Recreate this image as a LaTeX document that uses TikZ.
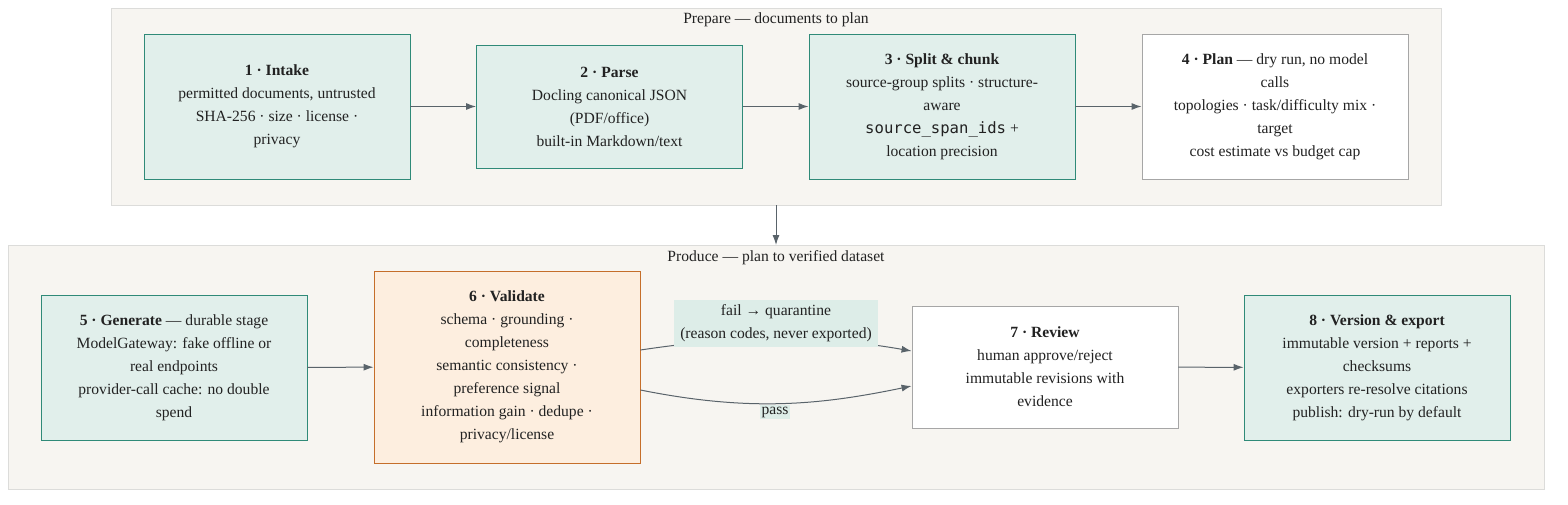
\documentclass[tikz,border=0pt]{standalone}
\usepackage{fontspec}
\setmainfont{Liberation Serif}
\setmonofont{DejaVu Sans Mono}
\usetikzlibrary{arrows.meta}
\definecolor{tfill}{HTML}{E1EFEB}
\definecolor{tdraw}{HTML}{2F8A78}
\definecolor{cfill}{HTML}{F7F5F1}
\definecolor{cdraw}{HTML}{DCDCDA}
\definecolor{ofill}{HTML}{FDEEDF}
\definecolor{odraw}{HTML}{C56E2A}
\definecolor{lfill}{HTML}{DDEDE8}
\definecolor{edge}{HTML}{59636A}
\definecolor{txt}{HTML}{222222}
\begin{document}
\begin{tikzpicture}[x=1pt,y=-1pt,
  font=\fontsize{15.6}{23}\selectfont, text=txt,
  box/.style={draw=tdraw,fill=tfill,line width=0.9pt,minimum width=266pt,align=center,inner sep=0pt},
  wbox/.style={box,draw=gray!70,fill=white},
  obox/.style={box,draw=odraw,fill=ofill},
  clus/.style={draw=cdraw,fill=cfill,line width=0.9pt},
  arr/.style={draw=edge,line width=1pt,-{Latex[length=10pt,width=7pt]}},
  lab/.style={fill=lfill,align=center,inner sep=2pt}]
\useasboundingbox (0,0) rectangle (1568,504);
\draw[clus] (111,8) rectangle (1441,205);
\coordinate (ctop) at (776,205);
\node at (776,20) {Prepare — documents to plan};
\draw[clus] (8,245) rectangle (1544,489);
\coordinate (cbot) at (776,245);
\node at (776,258) {Produce — plan to verified dataset};

\node[box,minimum height=145pt] (n1) at (277,106.5) {\textbf{1 · Intake}\\permitted documents, untrusted\\SHA-256 · size · license ·\\privacy};
\node[box,minimum height=123pt] (n2) at (609.5,106.5) {\textbf{2 · Parse}\\Docling canonical JSON\\(PDF/office)\\built-in Markdown/text};
\node[box,minimum height=145pt] (n3) at (942,106.5) {\textbf{3 · Split \& chunk}\\source-group splits · structure-\\aware\\\texttt{source\_span\_ids} +\\location precision};
\node[wbox,minimum height=145pt] (n4) at (1275,106.5) {\textbf{4 · Plan} — dry run, no model\\calls\\topologies · task/difficulty mix ·\\target\\cost estimate vs budget cap};

\node[box,minimum height=145pt] (n5) at (174,367.5) {\textbf{5 · Generate} — durable stage\\ModelGateway: fake offline or\\real endpoints\\provider-call cache: no double\\spend};
\node[obox,minimum height=192pt] (n6) at (507,367) {\textbf{6 · Validate}\\schema · grounding ·\\completeness\\semantic consistency ·\\preference signal\\information gain · dedupe ·\\privacy/license};
\node[wbox,minimum height=122pt] (n7) at (1045,367) {\textbf{7 · Review}\\human approve/reject\\immutable revisions with\\evidence};
\node[box,minimum height=145pt] (n8) at (1377,367.5) {\textbf{8 · Version \& export}\\immutable version + reports +\\checksums\\exporters re-resolve citations\\publish: dry-run by default};

\draw[arr] (n1) -- (n2);
\draw[arr] (n2) -- (n3);
\draw[arr] (n3) -- (n4);
\draw[arr] (ctop) -- (cbot);
\draw[arr] (n5) -- (n6);
\draw[arr] (n7) -- (n8);
\draw[arr] (n6.east|-0,350) .. controls (740,335) and (820,335) .. (n7.west|-0,351);
\draw[arr] (n6.east|-0,390) .. controls (750,412) and (820,405) .. (n7.west|-0,386);
\node[lab,minimum width=204pt,minimum height=47pt] (fl) at (776,323.5) {fail → quarantine\\(reason codes, never exported)};
\node[lab] (pl) at (775,412) {pass};
\end{tikzpicture}
\end{document}
